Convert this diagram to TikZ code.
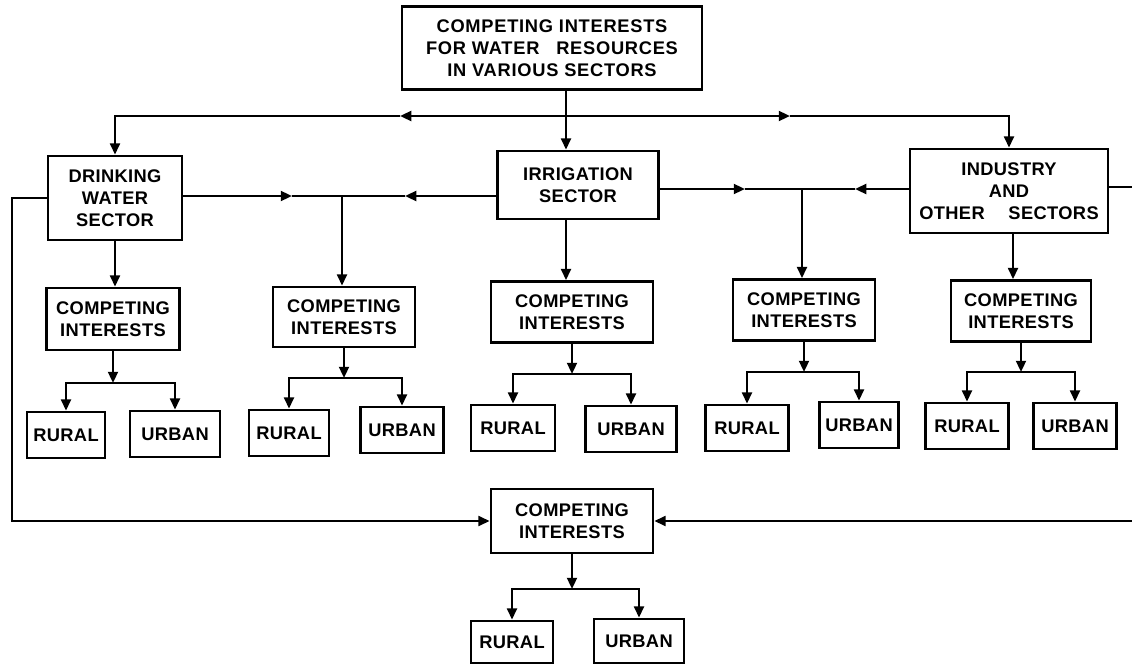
\documentclass[tikz,border=0pt]{standalone}
\usepackage{fontspec}
\setmainfont[LetterSpace=2]{Liberation Sans}
\newfontfamily\widefont[LetterSpace=4]{Liberation Sans}
\usepackage{tikz}
\usetikzlibrary{arrows.meta}
\tikzset{
  box/.style={draw,line width=1.9pt,inner sep=0pt,align=center,
              font=\fontsize{13}{15.6}\selectfont\bfseries},
  comp/.style={box,minimum height=1.525cm},
  ru/.style={box,minimum height=1.15cm},
  arr/.style={-{Triangle[length=8pt,width=7pt]},line width=1.7pt},
  ln/.style={line width=1.7pt},
}
\begin{document}
\begin{tikzpicture}[x=0.025cm,y=-0.025cm]
  \useasboundingbox (0,0) rectangle (1132,665);

  \node[box,minimum width=7.5cm,minimum height=2.075cm,
        font=\fontsize{13}{15.6}\widefont\bfseries] (top) at (552,48)
    {COMPETING INTERESTS\\FOR WATER\hspace{0.6em} RESOURCES\\IN VARIOUS SECTORS};
  \node[box,minimum width=3.35cm,minimum height=2.1cm] (drink) at (115,198)
    {DRINKING\\WATER\\SECTOR};
  \node[box,minimum width=4.025cm,minimum height=1.7cm] (irr) at (578,185)
    {IRRIGATION\\SECTOR};
  \node[box,minimum width=4.95cm,minimum height=2.1cm] (ind) at (1009,191)
    {INDUSTRY\\AND\\OTHER\hspace{1em} SECTORS};

  \node[comp,minimum width=3.325cm,minimum height=1.55cm] (c1) at (113,319) {COMPETING\\INTERESTS};
  \node[comp,minimum width=3.55cm,minimum height=1.5cm] (c2) at (344,317) {COMPETING\\INTERESTS};
  \node[comp,minimum width=4.05cm] (c3) at (572,312) {COMPETING\\INTERESTS};
  \node[comp,minimum width=3.55cm] (c4) at (804,310) {COMPETING\\INTERESTS};
  \node[comp,minimum width=3.5cm] (c5) at (1021,311) {COMPETING\\INTERESTS};
  \node[comp,minimum width=4.05cm,minimum height=1.6cm] (cb) at (572,521) {COMPETING\\INTERESTS};

  \node[ru,minimum width=1.95cm] (r1) at (66,435) {RURAL};
  \node[ru,minimum width=2.25cm] (u1) at (175,434) {URBAN};
  \node[ru,minimum width=2.0cm] (r2) at (289,433) {RURAL};
  \node[ru,minimum width=2.075cm] (u2) at (402,430) {URBAN};
  \node[ru,minimum width=2.1cm] (r3) at (513,428) {RURAL};
  \node[ru,minimum width=2.275cm] (u3) at (631,429) {URBAN};
  \node[ru,minimum width=2.075cm] (r4) at (747,428) {RURAL};
  \node[ru,minimum width=1.975cm] (u4) at (859,425) {URBAN};
  \node[ru,minimum width=2.075cm] (r5) at (967,426) {RURAL};
  \node[ru,minimum width=2.075cm] (u5) at (1075,426) {URBAN};
  \node[ru,minimum width=2.05cm,minimum height=1.05cm] (rb) at (512,642) {RURAL};
  \node[ru,minimum width=2.25cm,minimum height=1.1cm] (ub) at (639,641) {URBAN};

  \coordinate (bus) at (566,116);
  \coordinate (lm) at (400,116);
  \coordinate (rm) at (790,116);
  \coordinate (m1) at (292,196);
  \coordinate (j1) at (342,196);
  \coordinate (m2) at (405,196);
  \coordinate (m3) at (745,189);
  \coordinate (j2) at (802,189);
  \coordinate (m4) at (855,189);
  \coordinate (re) at (1132,187);
  \coordinate (rb2) at (1132,521);
  \coordinate (le) at (12,0);

  \draw[arr] (top.south -| bus) -- (irr.north -| bus);
  \draw[arr] (bus) -- (lm);
  \draw[arr] (lm) -| (drink.north);
  \draw[arr] (bus) -- (rm);
  \draw[arr] (rm) -| (ind.north);

  \draw[arr] (drink.east |- m1) -- (m1);
  \draw[ln] (m1) -- (j1);
  \draw[arr] (irr.west |- m2) -- (m2);
  \draw[ln] (m2) -- (j1);
  \draw[arr] (j1) -- (c2.north -| j1);
  \draw[arr] (irr.east |- m3) -- (m3);
  \draw[ln] (m3) -- (j2);
  \draw[arr] (ind.west |- m4) -- (m4);
  \draw[ln] (m4) -- (j2);
  \draw[arr] (j2) -- (c4.north -| j2);
  \draw[ln] (ind.east |- re) -- (re);

  \draw[arr] (drink.south) -- (c1.north -| drink.south);
  \draw[arr] (irr.south -| bus) -- (c3.north -| bus);
  \draw[arr] (ind.south -| 1013,0) -- (c5.north -| 1013,0);

  \draw[arr] (drink.west) -- (drink.west -| le) |- (cb.west);
  \draw[arr] (rb2) -- (cb.east);

  \foreach \c/\r/\u/\y in {c1/r1/u1/383,c2/r2/u2/378,c3/r3/u3/374,c4/r4/u4/372,c5/r5/u5/372,cb/rb/ub/589}{
    \draw[arr] (\c.south) -- (\c.south |- 0,\y);
    \draw[arr] (\c.south |- 0,\y) -| (\r.north);
    \draw[arr] (\c.south |- 0,\y) -| (\u.north);
  }
\end{tikzpicture}
\end{document}
